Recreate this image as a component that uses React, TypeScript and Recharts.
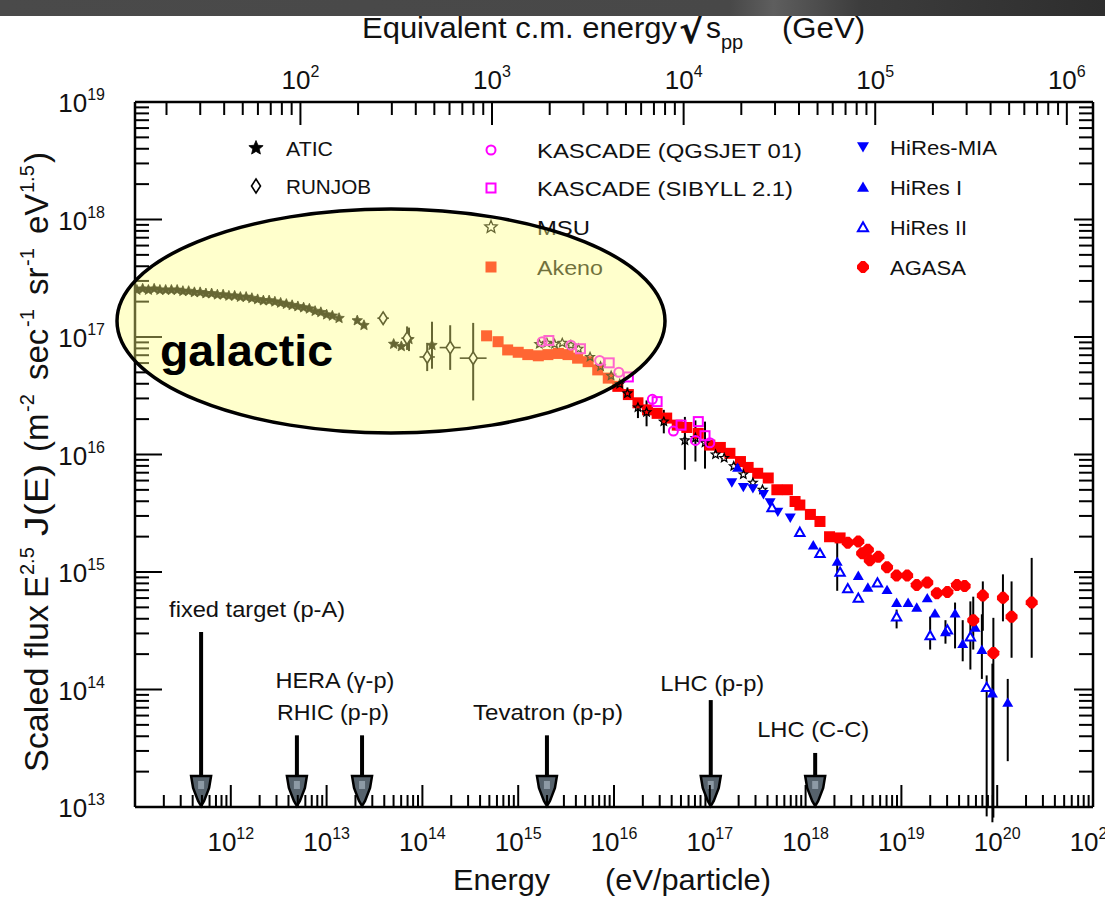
import React from 'react';
import {
  ScatterChart,
  Scatter,
  XAxis,
  YAxis,
  ErrorBar,
  ReferenceLine,
  ReferenceDot,
  Legend,
} from 'recharts';

const W = 1105;
const H = 899;
const FONT = '"Liberation Sans", Arial, Helvetica, sans-serif';

// ---------------- data ----------------
// row: [log10 E (eV), log10 scaled flux, flux err below (decades), flux err above, E err below, E err above]
const ATIC: number[][] = [
  [11.02, 17.4], [11.08, 17.41], [11.14, 17.4], [11.2, 17.41], [11.26, 17.4], [11.32, 17.4],
  [11.38, 17.4], [11.44, 17.4], [11.5, 17.39], [11.56, 17.39], [11.62, 17.38], [11.68, 17.38],
  [11.74, 17.37], [11.8, 17.37], [11.86, 17.36], [11.92, 17.36], [11.98, 17.35], [12.04, 17.35],
  [12.1, 17.34], [12.16, 17.34], [12.22, 17.33], [12.28, 17.32], [12.34, 17.31], [12.4, 17.31],
  [12.46, 17.3], [12.52, 17.29], [12.58, 17.28], [12.64, 17.27], [12.7, 17.26], [12.76, 17.25],
  [12.82, 17.24], [12.88, 17.22], [12.94, 17.21], [13.0, 17.19], [13.06, 17.18], [13.13, 17.16],
  [13.32, 17.14], [13.39, 17.1], [13.7, 16.94], [13.78, 16.92], [13.86, 16.98, 0.1, 0.1],
  [14.1, 16.93, 0.2, 0.2],
];
const RUNJOB: number[][] = [
  [13.59, 17.16, 0.05, 0.05, 0.06, 0.06],
  [13.84, 16.99, 0.1, 0.1, 0.06, 0.06],
  [14.05, 16.83, 0.12, 0.12, 0.08, 0.08],
  [14.29, 16.91, 0.19, 0.19, 0.11, 0.11],
  [14.53, 16.82, 0.36, 0.3, 0.14, 0.14],
];
const MSU: number[][] = [
  [15.22, 16.94], [15.3, 16.95], [15.38, 16.94], [15.46, 16.95], [15.55, 16.93], [15.63, 16.9],
  [15.75, 16.83], [15.86, 16.75], [15.97, 16.67], [16.06, 16.6], [16.14, 16.52, 0.05, 0.05],
  [16.25, 16.4, 0.09, 0.07], [16.34, 16.36, 0.12, 0.1], [16.52, 16.28, 0.1, 0.1],
  [16.74, 16.12, 0.25, 0.2], [16.85, 16.14, 0.2, 0.15], [16.95, 16.1, 0.22, 0.18],
  [17.06, 16.0], [17.15, 15.97], [17.25, 15.9], [17.35, 15.83], [17.45, 15.76], [17.55, 15.7],
];
const KASCADE_QGSJET: number[][] = [
  [15.25, 16.96], [15.55, 16.93], [15.85, 16.8], [16.05, 16.7], [16.4, 16.47], [16.62, 16.2],
  [16.85, 16.12], [17.0, 16.1],
];
const KASCADE_SIBYLL: number[][] = [
  [15.32, 16.97], [15.65, 16.9], [15.95, 16.78], [16.15, 16.66], [16.45, 16.45], [16.7, 16.25],
  [16.88, 16.28], [16.95, 16.16],
];
const AKENO: number[][] = [
  [14.67, 17.01], [14.79, 16.96], [14.89, 16.89], [15.0, 16.87], [15.1, 16.85], [15.21, 16.84],
  [15.31, 16.85], [15.42, 16.86], [15.52, 16.85], [15.62, 16.82], [15.73, 16.79], [15.83, 16.72],
  [15.94, 16.65], [16.04, 16.58], [16.15, 16.51], [16.25, 16.44], [16.35, 16.38], [16.45, 16.35],
  [16.55, 16.31], [16.66, 16.25], [16.76, 16.23], [16.88, 16.18], [17.0, 16.08], [17.11, 16.06],
  [17.21, 16.01], [17.32, 15.94], [17.4, 15.89], [17.5, 15.84], [17.61, 15.8], [17.7, 15.7],
  [17.81, 15.7], [17.89, 15.6], [17.94, 15.57], [18.05, 15.49], [18.15, 15.43], [18.25, 15.3],
  [18.36, 15.29],
];
const HIRES_MIA: number[][] = [
  [17.23, 15.76], [17.35, 15.72], [17.45, 15.71], [17.56, 15.66], [17.63, 15.59], [17.71, 15.51],
  [17.84, 15.46],
];
const HIRES_I: number[][] = [
  [17.29, 15.89], [18.08, 15.23], [18.33, 15.09, 0.25, 0.17], [18.55, 14.97], [18.65, 14.87],
  [18.85, 14.85], [18.95, 14.74], [19.07, 14.74], [19.16, 14.7], [19.27, 14.78], [19.35, 14.65],
  [19.46, 14.49, 0.1, 0.1], [19.56, 14.65, 0.3, 0.09], [19.64, 14.39, 0.15, 0.2], [19.77, 14.53],
  [19.84, 14.34, 0.25, 0.3], [19.95, 13.97, 1.1, 0.25], [20.11, 13.89, 0.5, 0.2],
];
const HIRES_II: number[][] = [
  [17.65, 15.55], [17.94, 15.34], [18.15, 15.16], [18.36, 15.0], [18.44, 14.86], [18.55, 14.78],
  [18.75, 14.91], [18.95, 14.62, 0.1, 0.06], [19.3, 14.46, 0.12, 0.16], [19.48, 14.51],
  [19.72, 14.45, 0.28, 0.3], [19.89, 14.02, 1.1, 0.1],
];
const AGASA: number[][] = [
  [18.44, 15.25], [18.55, 15.26], [18.59, 15.16], [18.65, 15.19], [18.67, 15.1], [18.76, 15.13],
  [18.85, 15.04], [18.95, 14.97], [19.06, 14.97], [19.16, 14.89], [19.27, 14.91], [19.37, 14.82],
  [19.48, 14.83], [19.58, 14.89], [19.66, 14.88], [19.75, 14.59, 0.25, 0.2],
  [19.85, 14.8, 0.3, 0.12], [19.96, 14.31, 1.4, 0.3], [20.06, 14.78, 0.2, 0.2],
  [20.15, 14.62, 0.35, 0.3], [20.36, 14.74, 0.47, 0.38],
];

// axes
const ENERGY_DECADES = [11, 12, 13, 14, 15, 16, 17, 18, 19, 20, 21];
const FLUX_DECADES = [13, 14, 15, 16, 17, 18, 19];
const SQRTS_DECADES = [1, 2, 3, 4, 5, 6];
const MINOR_STEPS = [2, 3, 4, 5, 6, 7, 8, 9];
const PROTON_MASS_GEV = 0.938;

// accelerators
const ACCEL_LABELS = ['fixed target (p-A)', 'HERA (γ-p)', 'RHIC (p-p)', 'Tevatron (p-p)', 'LHC (p-p)', 'LHC (C-C)'];
const ACCEL_LOG_E = [11.69, 12.69, 13.37, 15.3, 17.01, 18.1];
const ACCEL_LOG_TOP = [14.49, 13.61, 13.61, 13.61, 13.91, 13.46];
const ARROW_HEAD_LOG_F = 13.264;

// ---------------- helpers ----------------
type Pt = { x: number; y: number; ey: number[]; ex: number[] };
const toPoints = (rows: number[][]): Pt[] =>
  rows.map(([le, lf, lo = 0, hi = lo, xlo = 0, xhi = xlo]) => {
    const x = 10 ** le;
    const y = 10 ** lf;
    return {
      x,
      y,
      ey: [y - 10 ** (lf - lo), 10 ** (lf + hi) - y],
      ex: [x - 10 ** (le - xlo), 10 ** (le + xhi) - x],
    };
  });

const decadeTicks = (decs: number[], lo: number, hi: number) => {
  const out: number[] = [];
  decs.forEach((d, i) => {
    out.push(10 ** d);
    if (i < decs.length - 1) MINOR_STEPS.forEach((m) => out.push(m * 10 ** d));
  });
  return out.filter((v) => v >= lo * 0.9999 && v <= hi * 1.0001).sort((a, b) => a - b);
};

const E_DOMAIN = [10 ** ENERGY_DECADES[0], 10 ** ENERGY_DECADES[ENERGY_DECADES.length - 1]];
const F_DOMAIN = [10 ** FLUX_DECADES[0], 10 ** FLUX_DECADES[FLUX_DECADES.length - 1]];
const S_DOMAIN = E_DOMAIN.map((e) => Math.sqrt(2 * PROTON_MASS_GEV * (e / 1e9)));
const E_TICKS = decadeTicks(ENERGY_DECADES, E_DOMAIN[0], E_DOMAIN[1]);
const F_TICKS = decadeTicks(FLUX_DECADES, F_DOMAIN[0], F_DOMAIN[1]);
const S_TICKS = decadeTicks(SQRTS_DECADES, S_DOMAIN[0], S_DOMAIN[1]);

const expOf = (v: number) => Math.round(Math.log10(v));
const isMajor = (v: number) => Math.abs(Math.log10(v) - Math.round(Math.log10(v))) < 1e-6;

const PowLabel = ({ x, y, exp, anchor }: { x: number; y: number; exp: number; anchor: 'start' | 'middle' | 'end' }) => (
  <text x={x} y={y} textAnchor={anchor} fontFamily={FONT} fontSize={26} fill="#111">
    10
    <tspan dy={-12} fontSize={16}>
      {exp}
    </tspan>
  </text>
);

const BottomTick = (p: any) => {
  const v = p.payload.value;
  const major = isMajor(v);
  return (
    <g>
      <line x1={p.x} x2={p.x} y1={p.y} y2={p.y - (major ? 22 : 12)} stroke="#000" strokeWidth={2} />
      {major && expOf(v) > ENERGY_DECADES[0] && <PowLabel x={p.x} y={p.y + 44} exp={expOf(v)} anchor="middle" />}
    </g>
  );
};
const TopTick = (p: any) => {
  const v = p.payload.value;
  const major = isMajor(v);
  return (
    <g>
      <line x1={p.x} x2={p.x} y1={p.y} y2={p.y + (major ? 23 : 13)} stroke="#000" strokeWidth={2} />
      {major && <PowLabel x={p.x} y={p.y - 13} exp={expOf(v)} anchor="middle" />}
    </g>
  );
};
const LeftTick = (p: any) => {
  const v = p.payload.value;
  const major = isMajor(v);
  return (
    <g>
      <line x1={p.x} x2={p.x + (major ? 27 : 14)} y1={p.y} y2={p.y} stroke="#000" strokeWidth={2} />
      {major && <PowLabel x={p.x - 30} y={p.y + 10} exp={expOf(v)} anchor="end" />}
    </g>
  );
};
const RightTick = (p: any) => {
  const v = p.payload.value;
  const major = isMajor(v);
  return <line x1={p.x} x2={p.x - (major ? 19 : 14)} y1={p.y} y2={p.y} stroke="#000" strokeWidth={2} />;
};

const starPts = (cx: number, cy: number, R: number, r: number) =>
  Array.from({ length: 10 }, (_, i) => {
    const a = -Math.PI / 2 + (i * Math.PI) / 5;
    const rad = i % 2 === 0 ? R : r;
    return `${cx + rad * Math.cos(a)},${cy + rad * Math.sin(a)}`;
  }).join(' ');

type Kind =
  | 'starFilled' | 'starOpen' | 'diamondOpen' | 'circleOpen' | 'squareOpen'
  | 'squareFilled' | 'triDown' | 'triUp' | 'triUpOpen' | 'diamondFilled';

const Marker = ({ kind, cx, cy, size, color }: { kind: Kind; cx: number; cy: number; size: number; color: string }) => {
  if (cx == null || cy == null || isNaN(cx) || isNaN(cy)) return null;
  const h = size / 2;
  switch (kind) {
    case 'starFilled':
      return <polygon points={starPts(cx, cy, h, h * 0.45)} fill={color} stroke={color} strokeWidth={0.8} />;
    case 'starOpen':
      return <polygon points={starPts(cx, cy, h, h * 0.45)} fill="none" stroke={color} strokeWidth={1.3} />;
    case 'diamondOpen':
      return (
        <polygon
          points={`${cx},${cy - h * 1.4} ${cx + h * 0.9},${cy} ${cx},${cy + h * 1.4} ${cx - h * 0.9},${cy}`}
          fill="#fff"
          stroke={color}
          strokeWidth={1.6}
        />
      );
    case 'circleOpen':
      return <circle cx={cx} cy={cy} r={h - 1} fill="none" stroke={color} strokeWidth={2} />;
    case 'squareOpen':
      return <rect x={cx - h + 1} y={cy - h + 1} width={size - 2} height={size - 2} fill="none" stroke={color} strokeWidth={2} />;
    case 'squareFilled':
      return <rect x={cx - h} y={cy - h} width={size} height={size} fill={color} />;
    case 'triDown':
      return <polygon points={`${cx - h},${cy - h * 0.8} ${cx + h},${cy - h * 0.8} ${cx},${cy + h * 0.9}`} fill={color} />;
    case 'triUp':
      return <polygon points={`${cx},${cy - h * 0.9} ${cx + h},${cy + h * 0.8} ${cx - h},${cy + h * 0.8}`} fill={color} />;
    case 'triUpOpen':
      return (
        <polygon
          points={`${cx},${cy - h * 0.8} ${cx + h * 0.85},${cy + h * 0.7} ${cx - h * 0.85},${cy + h * 0.7}`}
          fill="#fff"
          stroke={color}
          strokeWidth={2}
        />
      );
    case 'diamondFilled': {
      const a = h * 0.3;
      return (
        <polygon
          points={`${cx - a},${cy - h} ${cx + a},${cy - h} ${cx + h},${cy - a} ${cx + h},${cy + a} ${cx + a},${cy + h} ${cx - a},${cy + h} ${cx - h},${cy + a} ${cx - h},${cy - a}`}
          fill={color}
        />
      );
    }
    default:
      return null;
  }
};

type SeriesCfg = { name: string; rows: number[][]; kind: Kind; color: string; size: number; xerr?: boolean };
// drawing order
const SERIES: SeriesCfg[] = [
  { name: 'Akeno', rows: AKENO, kind: 'squareFilled', color: '#ff0000', size: 11 },
  { name: 'ATIC', rows: ATIC, kind: 'starFilled', color: '#000', size: 11 },
  { name: 'RUNJOB', rows: RUNJOB, kind: 'diamondOpen', color: '#000', size: 9, xerr: true },
  { name: 'MSU', rows: MSU, kind: 'starOpen', color: '#000', size: 9 },
  { name: 'KASCADE (QGSJET 01)', rows: KASCADE_QGSJET, kind: 'circleOpen', color: '#ff00ff', size: 11 },
  { name: 'KASCADE (SIBYLL 2.1)', rows: KASCADE_SIBYLL, kind: 'squareOpen', color: '#ff00ff', size: 11 },
  { name: 'HiRes-MIA', rows: HIRES_MIA, kind: 'triDown', color: '#0000ff', size: 11 },
  { name: 'HiRes II', rows: HIRES_II, kind: 'triUpOpen', color: '#0000ff', size: 11 },
  { name: 'HiRes I', rows: HIRES_I, kind: 'triUp', color: '#0000ff', size: 11 },
  { name: 'AGASA', rows: AGASA, kind: 'diamondFilled', color: '#ff0000', size: 12 },
];

// legend layout (position of marker / text, width of text)
const LEGEND_ITEMS: { name: string; kind: Kind; color: string; size: number; mx: number; tx: number; y: number; len: number }[] = [
  { name: 'ATIC', kind: 'starFilled', color: '#000', size: 15, mx: 256, tx: 286, y: 148, len: 47 },
  { name: 'RUNJOB', kind: 'diamondOpen', color: '#000', size: 10, mx: 256, tx: 286, y: 186, len: 85 },
  { name: 'KASCADE (QGSJET 01)', kind: 'circleOpen', color: '#ff00ff', size: 11, mx: 491, tx: 537, y: 150, len: 265 },
  { name: 'KASCADE (SIBYLL 2.1)', kind: 'squareOpen', color: '#ff00ff', size: 11, mx: 491, tx: 537, y: 188, len: 256 },
  { name: 'MSU', kind: 'starOpen', color: '#000', size: 13, mx: 491, tx: 537, y: 227, len: 53 },
  { name: 'Akeno', kind: 'squareFilled', color: '#ff0000', size: 11, mx: 491, tx: 537, y: 267, len: 66 },
  { name: 'HiRes-MIA', kind: 'triDown', color: '#0000ff', size: 12, mx: 863, tx: 890, y: 147, len: 107 },
  { name: 'HiRes I', kind: 'triUp', color: '#0000ff', size: 12, mx: 863, tx: 890, y: 187, len: 72 },
  { name: 'HiRes II', kind: 'triUpOpen', color: '#0000ff', size: 12, mx: 863, tx: 890, y: 227, len: 77 },
  { name: 'AGASA', kind: 'diamondFilled', color: '#ff0000', size: 12, mx: 863, tx: 890, y: 267, len: 76 },
];

const ACCEL_LABEL_LAYOUT = [
  { dx: 56, dy: -15, len: 176 },
  { dx: 38, dy: -47, len: 119 },
  { dx: -29, dy: -15, len: 112 },
  { dx: 1, dy: -15, len: 150 },
  { dx: 1.5, dy: -9, len: 104 },
  { dx: -2, dy: -16, len: 112 },
];

const LegendContent = () => (
  <svg width={W} height={H} style={{ position: 'absolute', left: 0, top: 0, pointerEvents: 'none' }}>
    {LEGEND_ITEMS.map((it) => (
      <g key={it.name}>
        <Marker kind={it.kind} cx={it.mx} cy={it.y} size={it.size} color={it.color} />
        <text
          x={it.tx}
          y={it.y + 8}
          fontFamily={FONT}
          fontSize={21}
          fill="#111"
          textLength={it.len}
          lengthAdjust="spacingAndGlyphs"
        >
          {it.name}
        </text>
      </g>
    ))}
  </svg>
);

const ArrowHead = (p: any) => {
  const { cx, cy } = p;
  if (cx == null || cy == null) return null;
  return (
    <g>
      <polygon
        points={`${cx - 10},${cy} ${cx + 10},${cy} ${cx + 8},${cy + 12} ${cx + 3},${cy + 25} ${cx},${cy + 30} ${cx - 3},${cy + 25} ${cx - 8},${cy + 12}`}
        fill="#56626c"
        stroke="#000"
        strokeWidth={2.5}
      />
      <rect x={cx - 3} y={cy + 5} width={6} height={8} fill="#8d9aa5" />
    </g>
  );
};

const Txt = (props: any) => <text fontFamily={FONT} fill="#111" lengthAdjust="spacingAndGlyphs" {...props} />;

export default function App() {
  return (
    <div style={{ position: 'absolute', left: 0, top: 0, width: W, height: H, background: '#fff', overflow: 'hidden' }}>
      <div
        style={{
          position: 'absolute',
          left: 0,
          top: 0,
          width: W,
          height: 16,
          background: 'linear-gradient(90deg, #4a4a4a 0%, #484848 66%, #5e5e5e 70%, #3c3c3c 78%, #2e2e2e 100%)',
          zIndex: 3,
        }}
      />
      <ScatterChart width={W} height={H} margin={{ top: 42, right: 0, bottom: 32, left: 35 }}>
        <XAxis
          xAxisId="e"
          dataKey="x"
          type="number"
          scale="log"
          domain={E_DOMAIN}
          allowDataOverflow
          ticks={E_TICKS}
          interval={0}
          height={60}
          tickSize={0}
          tickMargin={0}
          tickLine={false}
          axisLine={{ stroke: '#000', strokeWidth: 2.5 }}
          tick={(p: any) => <BottomTick {...p} />}
        />
        <XAxis
          xAxisId="s"
          orientation="top"
          dataKey="x"
          type="number"
          scale="log"
          domain={S_DOMAIN}
          allowDataOverflow
          ticks={S_TICKS}
          interval={0}
          height={60}
          tickSize={0}
          tickMargin={0}
          tickLine={false}
          axisLine={{ stroke: '#000', strokeWidth: 2.5 }}
          tick={(p: any) => <TopTick {...p} />}
        />
        <YAxis
          yAxisId="f"
          dataKey="y"
          type="number"
          scale="log"
          domain={F_DOMAIN}
          allowDataOverflow
          ticks={F_TICKS}
          interval={0}
          width={100}
          tickSize={0}
          tickMargin={0}
          tickLine={false}
          axisLine={{ stroke: '#000', strokeWidth: 2.5 }}
          tick={(p: any) => <LeftTick {...p} />}
        />
        <YAxis
          yAxisId="fr"
          orientation="right"
          dataKey="y"
          type="number"
          scale="log"
          domain={F_DOMAIN}
          allowDataOverflow
          ticks={F_TICKS}
          interval={0}
          width={12}
          tickSize={0}
          tickMargin={0}
          tickLine={false}
          axisLine={{ stroke: '#000', strokeWidth: 2.5 }}
          tick={(p: any) => <RightTick {...p} />}
        />
        <Legend
          content={LegendContent}
          layout="horizontal"
          verticalAlign="middle"
          align="center"
          wrapperStyle={{ left: 0, top: 0, width: W, height: H, pointerEvents: 'none' }}
        />
        {/* invisible series binding the secondary axes */}
        <Scatter data={[]} xAxisId="s" yAxisId="fr" isAnimationActive={false} legendType="none" />

        {ACCEL_LOG_E.map((le, i) => (
          <ReferenceLine
            key={`al${i}`}
            xAxisId="e"
            yAxisId="f"
            segment={[
              { x: 10 ** le, y: 10 ** ACCEL_LOG_TOP[i] },
              { x: 10 ** le, y: 10 ** ARROW_HEAD_LOG_F },
            ]}
            stroke="#000"
            strokeWidth={4}
          />
        ))}
        {ACCEL_LOG_E.map((le, i) => (
          <ReferenceDot
            key={`ah${i}`}
            xAxisId="e"
            yAxisId="f"
            x={10 ** le}
            y={10 ** ARROW_HEAD_LOG_F}
            r={1}
            shape={(p: any) => <ArrowHead {...p} />}
          />
        ))}
        {ACCEL_LOG_E.map((le, i) => (
          <ReferenceDot
            key={`at${i}`}
            xAxisId="e"
            yAxisId="f"
            x={10 ** le}
            y={10 ** ACCEL_LOG_TOP[i]}
            r={1}
            shape={(p: any) =>
              p.cx == null ? null : (
                <Txt
                  x={p.cx + ACCEL_LABEL_LAYOUT[i].dx}
                  y={p.cy + ACCEL_LABEL_LAYOUT[i].dy}
                  fontSize={22}
                  textAnchor="middle"
                  textLength={ACCEL_LABEL_LAYOUT[i].len}
                >
                  {ACCEL_LABELS[i]}
                </Txt>
              )
            }
          />
        ))}

        {SERIES.map((s) => (
          <Scatter
            key={s.name}
            name={s.name}
            data={toPoints(s.rows)}
            xAxisId="e"
            yAxisId="f"
            isAnimationActive={false}
            shape={(p: any) => <Marker kind={s.kind} cx={p.cx} cy={p.cy} size={s.size} color={s.color} />}
          >
            <ErrorBar dataKey="ey" direction="y" width={0} stroke="#000" strokeWidth={2} isAnimationActive={false} />
            {s.xerr ? (
              <ErrorBar dataKey="ex" direction="x" width={0} stroke="#000" strokeWidth={1.6} isAnimationActive={false} />
            ) : null}
          </Scatter>
        ))}
      </ScatterChart>

      {/* overlay: galactic ellipse and axis titles */}
      <svg width={W} height={H} style={{ position: 'absolute', left: 0, top: 0, pointerEvents: 'none', zIndex: 2 }}>
        <ellipse cx={391} cy={321} rx={274} ry={112} fill="#ffff80" fillOpacity={0.4} stroke="#000" strokeWidth={3.5} />
        <text x={160} y={366} fontFamily={FONT} fontWeight="bold" fontSize={44} fill="#000" textLength={173} lengthAdjust="spacingAndGlyphs">
          galactic
        </text>

        <Txt x={362} y={38} fontSize={30} textLength={315}>Equivalent c.m. energy</Txt>
        <text x={679} y={43} fontFamily='"DejaVu Sans", sans-serif' fontWeight="bold" fontSize={38} fill="#111">√</text>
        <Txt x={706} y={38} fontSize={30}>s</Txt>
        <Txt x={721} y={49} fontSize={20}>pp</Txt>
        <Txt x={782} y={38} fontSize={30} textLength={83}>(GeV)</Txt>

        <Txt x={453} y={890} fontSize={30} textLength={97}>Energy</Txt>
        <Txt x={605} y={890} fontSize={30} textLength={166}>(eV/particle)</Txt>

        <g transform="translate(48,0) rotate(-90)">
          <Txt x={-772} y={0} fontSize={33} textLength={167}>Scaled flux</Txt>
          <Txt x={-598} y={0} fontSize={33}>E</Txt>
          <Txt x={-575} y={-14} fontSize={20}>2.5</Txt>
          <Txt x={-536} y={0} fontSize={33} textLength={72}>J(E)</Txt>
          <Txt x={-452} y={0} fontSize={33}>(m</Txt>
          <Txt x={-412} y={-14} fontSize={20}>-2</Txt>
          <Txt x={-380} y={0} fontSize={33}>sec</Txt>
          <Txt x={-327} y={-14} fontSize={20}>-1</Txt>
          <Txt x={-295} y={0} fontSize={33}>sr</Txt>
          <Txt x={-266} y={-14} fontSize={20}>-1</Txt>
          <Txt x={-234} y={0} fontSize={33}>eV</Txt>
          <Txt x={-193} y={-14} fontSize={20}>1.5</Txt>
          <Txt x={-163} y={0} fontSize={33}>)</Txt>
        </g>
      </svg>
    </div>
  );
}
